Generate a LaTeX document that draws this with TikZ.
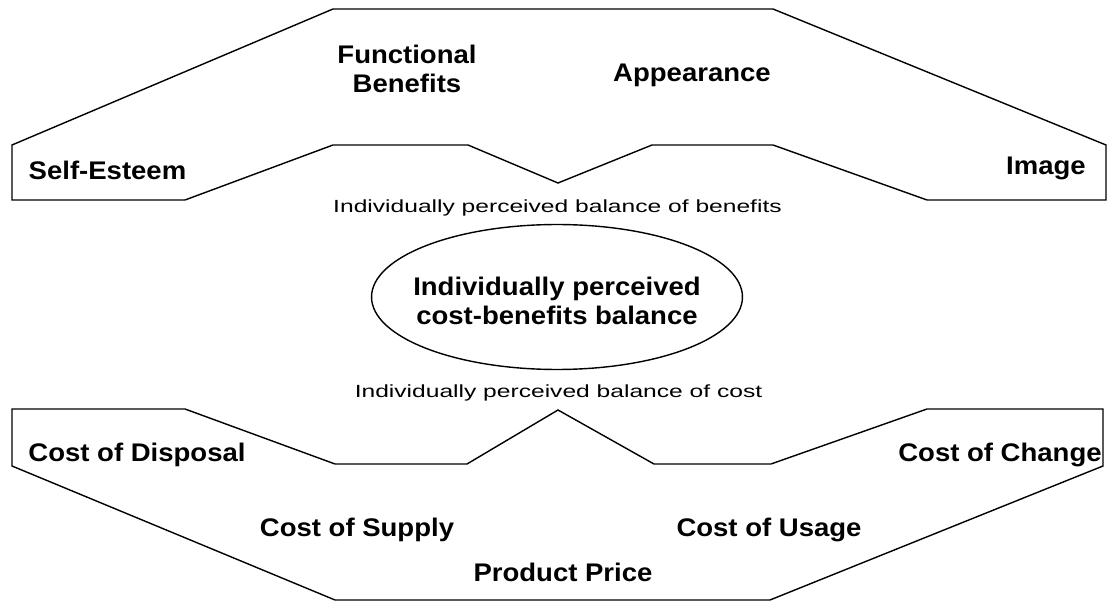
\documentclass[tikz,border=0pt]{standalone}
\usepackage{fontspec}
\setmainfont{Liberation Sans}
\newfontfamily\factorfont[FakeStretch=1.08]{Liberation Sans}
\newfontfamily\captionfont[FakeStretch=1.40]{Liberation Sans}
\usetikzlibrary{shapes.geometric, positioning}

\begin{document}
\begin{tikzpicture}[x=0.02cm,y=-0.02cm,
  outline/.style={draw, line width=0.8pt, line join=miter},
  factor/.style={font=\factorfont\fontsize{14.5}{17.07}\selectfont\bfseries, align=center, anchor=base, inner sep=0pt},
  caption/.style={font=\captionfont\fontsize{10}{12}\selectfont, anchor=base, inner sep=0pt}]
\useasboundingbox (0,0) rectangle (1107,601);

%shapes
\draw[outline] (12,145) -- (333,9) -- (773,9) -- (1106,145) -- (1106,200) -- (927,200)
  -- (773,145) -- (652,145) -- (558,183) -- (468,145) -- (333,145) -- (185,200)
  -- (12,200) -- cycle;
\draw[outline] (12,409) -- (185,409) -- (335,464) -- (467,464) -- (558,410) -- (654,464)
  -- (771,464) -- (927,409) -- (1103,409) -- (1103,466) -- (770,600) -- (335,600)
  -- (12,466) -- cycle;

%nodes
\node[ellipse, draw, line width=0.8pt, minimum width=7.42cm, minimum height=2.9cm] (balance) at (557,297) {};
\node[factor] (balancetext) at (557,325) {Individually perceived\\cost-benefits balance};
\node[caption] (benefits) at (557.5,213) {Individually perceived balance of benefits};
\node[caption] (cost) at (558.5,398) {Individually perceived balance of cost};

\node[factor] (functional) at (407,93) {Functional\\Benefits};
\node[factor] (appearance) at (692,82) {Appearance};
\node[factor] (esteem) at (107.5,180) {Self-Esteem};
\node[factor] (image) at (1046,175) {Image};

\node[factor] (disposal) at (137,462) {Cost of Disposal};
\node[factor] (change) at (1000,462) {Cost of Change};
\node[factor] (supply) at (357,537) {Cost of Supply};
\node[factor] (usage) at (769,537) {Cost of Usage};
\node[factor] (price) at (563,582) {Product Price};
\end{tikzpicture}
\end{document}
